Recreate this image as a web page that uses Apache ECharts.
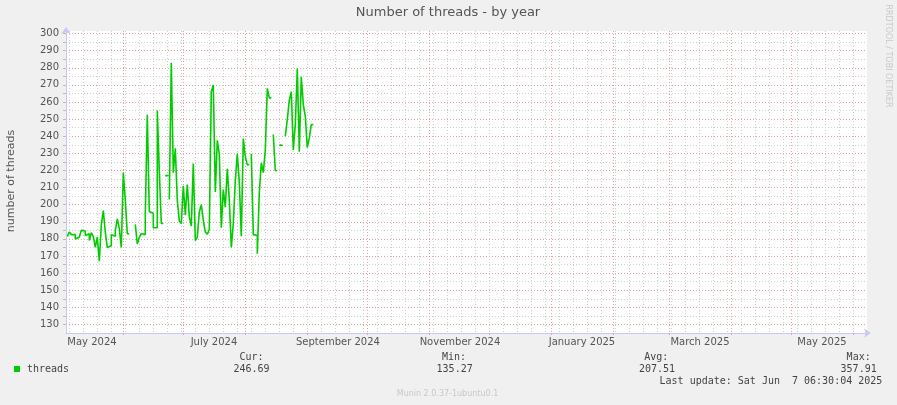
<!DOCTYPE html>
<html><head><meta charset="utf-8">
<script src="https://cdn.jsdelivr.net/npm/echarts@6/dist/echarts.min.js"></script>
<style>html,body{margin:0;padding:0;background:#f0f0f0;}#c{width:897px;height:405px;}</style>
</head><body><div id="c"></div>
<script>
// ---- data ----
const DAY = 86400000;
const firstDay = Date.UTC(2024, 4, 4);          // first daily sample
const threads = [
  181.5, 181, 184, 182.5, 182.5, 180, 181, 180, 185, 184.6,
  182, 183, 179, 183.6, 181.5, 175, 181, 167, 188, 196.5,
  184, 175, 176, 182.5, 181.5, 185, 191.7, 186, 175, 218.7,
  202.5, 183, null, null, null, 188.5, 177, 181, 183, 182.5,
  194.7, 252.6, 196, 195, 186.5, 186.5, 255, 220, 189, null,
  217, null, 203, 283, 218.7, 233, 202.5, 190.5, 189, 211,
  194, 211.7, 193, 187.5, 224, 179, 181, 195.7, 200, 191,
  184, 182.7, 185.5, 266, 270, 207.4, 237.6, 229.4, 186.5, 208.8,
  198.6, 221, 202.5, 175, 189, 214, 229.8, 213, 181.5, 238.6,
  228, 223.4, null, 229.8, 182.5, 182, 171.3, 207, 224.4, 218.7,
  231.8, 268, 262.4, null, 241, 220, null, 234.7, null, null,
  240, 249.7, 261, 266, 232, 246.8, 279.5, 231, 274.7, 258.5,
  251.7, 233.3, 239, 246.8
];
const xStart = Date.UTC(2024, 4, 3, 8, 24);
const xEnd = Date.UTC(2025, 5, 7, 20, 24);
const yMin = 125, yMax = 301.5, yStep = 5;
const labelMonths = [[2024, 4], [2024, 6], [2024, 8], [2024, 10], [2025, 0], [2025, 2], [2025, 4]];
const monthNames = ['January','February','March','April','May','June','July','August','September','October','November','December'];
const seriesName = 'threads';
const statCur = '246.69', statMin = '135.27', statAvg = '207.51', statMax = '357.91';
const lastUpdate = 'Last update: Sat Jun  7 06:30:04 2025';
const titleText = 'Number of threads - by year';
const yName = 'number of threads';
const footer = 'Munin 2.0.37-1ubuntu0.1';
const sideText = 'RRDTOOL / TOBI OETIKER';

// ---- derived ----
const seriesData = threads.map((v, i) => {
  const t = firstDay + i * DAY;
  const prevNull = i === 0 || threads[i - 1] == null;
  const nextNull = i === threads.length - 1 || threads[i + 1] == null;
  if (v != null && prevNull && nextNull) {
    return { value: [t, v], symbol: 'rect', symbolSize: [3, 1.5] };
  }
  return [t, v];
});
const monthLines = [];
for (let y = 2024, m = 4; ; ) {
  const t = Date.UTC(y, m, 1);
  if (t > xEnd) break;
  if (t >= xStart) monthLines.push(t);
  m++; if (m > 11) { m = 0; y++; }
}
const weekLines = [];
for (let t = Date.UTC(2024, 4, 5); t <= xEnd; t += 7 * DAY) if (t >= xStart) weekLines.push(t);
const labelVals = labelMonths.map(([y, m]) => Date.UTC(y, m, 16, 8));

const GRAY = '#cfcfcf', RED = '#e3a3a3', AXIS = '#c8c8f5', TXT = '#555';
const chart = echarts.init(document.getElementById('c'), null, { renderer: 'canvas' });
const mono = 'DejaVu Sans Mono';
const sans = 'DejaVu Sans';
function txt(x, y, s, opt) {
  return Object.assign({ type: 'text', x: x, y: y, silent: true,
    style: Object.assign({ text: s, fill: '#444', font: '10px "' + mono + '"', textAlign: 'left', textVerticalAlign: 'middle' }, opt || {}) });
}
chart.setOption({
  backgroundColor: '#f0f0f0',
  animation: false,
  grid: { left: 66, right: 30, top: 31, bottom: 72, show: true, backgroundColor: '#ffffff', borderWidth: 0 },
  xAxis: [{
    type: 'value', min: xStart, max: xEnd,
    axisLine: { show: true, lineStyle: { color: AXIS, width: 1 }, symbol: ['none', 'arrow'], symbolSize: [7, 7], symbolOffset: [0, 4] },
    axisTick: { show: true, length: 2, customValues: monthLines, lineStyle: { color: RED } },
    axisLabel: { customValues: labelVals, margin: 4, color: TXT, fontFamily: sans, fontSize: 10,
      formatter: v => { const d = new Date(v); return monthNames[d.getUTCMonth()] + ' ' + d.getUTCFullYear(); } },
    splitLine: { show: true, lineStyle: { color: RED, type: [1, 2], width: 1 } }
  }, {
    type: 'value', min: xStart, max: xEnd, position: 'top',
    axisLine: { show: false }, axisLabel: { show: false },
    axisTick: { show: false, customValues: weekLines },
    splitLine: { show: true, lineStyle: { color: GRAY, type: [1, 2], width: 1 } }
  }],
  yAxis: {
    type: 'value', min: yMin, max: yMax, interval: yStep,
    axisLine: { show: true, lineStyle: { color: AXIS, width: 1 }, symbol: ['none', 'arrow'], symbolSize: [7, 7], symbolOffset: [0, 4] },
    axisTick: { show: true, length: 3, lineStyle: { color: '#d8b0b0' } },
    axisLabel: { color: TXT, fontFamily: sans, fontSize: 10, margin: 7, showMinLabel: false, showMaxLabel: false,
      formatter: v => (v % 10 === 0 ? String(v) : '') },
    splitLine: { show: true, showMinLine: false, showMaxLine: false, lineStyle: { color: [RED, GRAY], type: [1, 2], width: 1 } }
  },
  series: [{
    name: seriesName, type: 'line', xAxisIndex: 0, yAxisIndex: 0,
    data: seriesData, step: 'start', connectNulls: false,
    symbol: 'none', showSymbol: true, showAllSymbol: true,
    itemStyle: { color: '#00cc00' },
    lineStyle: { color: '#00cc00', width: 1.6 }, z: 5
  }],
  graphic: [
    txt(448, 13, titleText, { textAlign: 'center', fill: TXT, font: '13px "' + sans + '"' }),
    Object.assign(txt(11, 181, yName, { textAlign: 'center', fill: TXT, font: '11px "' + sans + '"' }), { rotation: Math.PI / 2 }),
    Object.assign(txt(888, 56, sideText, { textAlign: 'center', fill: '#c8c8c8', font: '8px "' + sans + '"' }), { rotation: -Math.PI / 2 }),
    { type: 'rect', shape: { x: 14, y: 366, width: 6, height: 6 }, style: { fill: '#00cc00' }, silent: true },
    txt(27, 369.7, seriesName),
    txt(263.5, 357.7, 'Cur:', { textAlign: 'right' }),
    txt(269.5, 369.7, statCur, { textAlign: 'right' }),
    txt(466, 357.7, 'Min:', { textAlign: 'right' }),
    txt(472.7, 369.7, statMin, { textAlign: 'right' }),
    txt(668.3, 357.7, 'Avg:', { textAlign: 'right' }),
    txt(675, 369.7, statAvg, { textAlign: 'right' }),
    txt(870.7, 357.7, 'Max:', { textAlign: 'right' }),
    txt(876.7, 369.7, statMax, { textAlign: 'right' }),
    txt(882.3, 381.7, lastUpdate, { textAlign: 'right' }),
    txt(447.5, 394, footer, { textAlign: 'center', fill: '#c8c8c8', font: '8px "' + sans + '"' })
  ]
});
</script></body></html>
